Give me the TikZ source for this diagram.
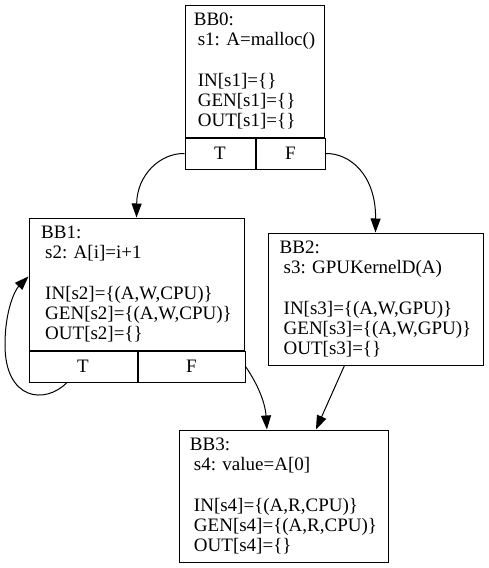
\documentclass[tikz,border=0pt]{standalone}
\usepackage{fontspec}
\setmainfont{Liberation Serif}
\usetikzlibrary{arrows.meta}
\newcommand{\lpad}{\hspace*{4pt}}

\begin{document}
\begin{tikzpicture}[x=1pt, y=-1pt,
    >={Triangle[length=14pt, width=10pt]},
    bb/.style={draw, line width=1pt, minimum height=132pt, align=left, inner sep=0pt,
        font=\fontsize{19}{20.2}\selectfont},
    port/.style={draw, line width=1pt, minimum height=31pt, inner sep=0pt, anchor=north west,
        font=\fontsize{19}{20.2}\selectfont},
    edge/.style={->, line width=1pt}]
    \useasboundingbox (0,0) rectangle (488,568);

    % Blocks
    \node[bb, minimum width=139pt] (bb0) at (254.5,71)
        {BB0:\\ \lpad s1: A=malloc()\\ \mbox{}\\ \lpad IN[s1]=\{\}\\ \lpad GEN[s1]=\{\}\\ \lpad OUT[s1]=\{\}};
    \node[port, minimum width=70pt] (bb0t) at (bb0.south west) {T};
    \node[port, minimum width=69pt] (bb0f) at (bb0t.north east) {F};

    \node[bb, minimum width=215pt] (bb1) at (136.5,284)
        {BB1:\\ \lpad s2: A[i]=i+1\\ \mbox{}\\ \lpad IN[s2]=\{(A,W,CPU)\}\\ \lpad GEN[s2]=\{(A,W,CPU)\}\\ \lpad OUT[s2]=\{\}};
    \node[port, minimum width=108pt] (bb1t) at (bb1.south west) {T};
    \node[port, minimum width=107pt] (bb1f) at (bb1t.north east) {F};

    \node[bb, minimum width=215pt] (bb2) at (375.5,299)
        {BB2:\\ \lpad s3: GPUKernelD(A)\\ \mbox{}\\ \lpad IN[s3]=\{(A,W,GPU)\}\\ \lpad GEN[s3]=\{(A,W,GPU)\}\\ \lpad OUT[s3]=\{\}};

    \node[bb, minimum width=209pt] (bb3) at (283.5,496)
        {BB3:\\ \lpad s4: value=A[0]\\ \mbox{}\\ \lpad IN[s4]=\{(A,R,CPU)\}\\ \lpad GEN[s4]=\{(A,R,CPU)\}\\ \lpad OUT[s4]=\{\}};

    % Edges
    \draw[edge] (bb0t.west) .. controls (160,153) and (137,175) .. (bb1.north);
    \draw[edge] (bb0f.east) .. controls (350,153) and (376,175) .. (bb2.north);
    \draw[edge] (bb1t.-135) .. controls (45,405) and (5,400) .. (5,345)
        .. controls (5,310) and (15,290) .. (bb1.176);
    \draw[edge] (bb1f.east) .. controls (255,380) and (265,400) .. (bb3.104);
    \draw[edge] (bb2.-115) -- (bb3.64);
\end{tikzpicture}
\end{document}
